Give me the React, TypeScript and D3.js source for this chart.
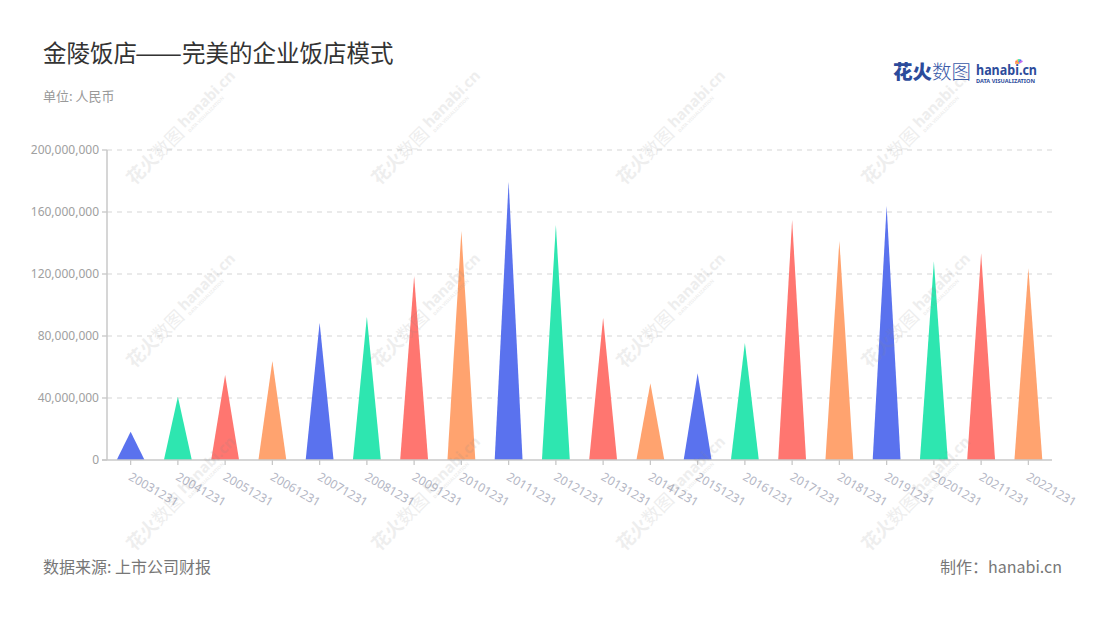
import React from "react";
import * as d3 from "d3";

const categories = [
  "20031231", "20041231", "20051231", "20061231", "20071231",
  "20081231", "20091231", "20101231", "20111231", "20121231",
  "20131231", "20141231", "20151231", "20161231", "20171231",
  "20181231", "20191231", "20201231", "20211231", "20221231",
];
const values = [
  18300000, 40800000, 54800000, 63900000, 88600000,
  92500000, 118700000, 147700000, 179600000, 151600000,
  91800000, 49500000, 55900000, 75700000, 154800000,
  141500000, 163900000, 128000000, 133300000, 123700000,
];
const yTicks = [0, 40000000, 80000000, 120000000, 160000000, 200000000];
const palette = ["#5a72ee", "#2ee6b0", "#ff7670", "#ffa36f"];

const titleA = "金陵饭店";
const titleDash = "——";
const titleB = "完美的企业饭店模式";
const subtitle = "单位: 人民币";
const source = "数据来源: 上市公司财报";
const maker = "制作：hanabi.cn";

const W = 1100;
const H = 620;
const left = 107;
const right = 1052;
const top = 150;
const bottom = 460;
const FONT = "'Noto Sans', 'Noto Sans CJK SC', sans-serif";
const CJK = "'Noto Sans CJK SC', 'Noto Sans', sans-serif";

const wmCenters: [number, number][] = [];
[127, 310, 493].forEach((cy) => {
  [183, 428, 673, 918].forEach((cx) => wmCenters.push([cx, cy]));
});

function Watermark({ x, y }: { x: number; y: number }) {
  return (
    <g transform={`translate(${x},${y}) rotate(-45)`} opacity={0.14} fill="#8a8a8a">
      <text x={-76} y={7} fontFamily={CJK} fontSize={18} fontWeight={700}>花火</text>
      <text x={-40} y={7} fontFamily={CJK} fontSize={18}>数图</text>
      <text x={0} y={2} fontFamily={FONT} fontSize={15} fontWeight={700}>hanabi.cn</text>
      <text x={1} y={9} fontFamily={FONT} fontSize={4.6} fontWeight={700}>DATA VISUALIZATION</text>
    </g>
  );
}

export default function App() {
  const x = d3.scaleBand<string>().domain(categories).range([left, right]).padding(0);
  const y = d3.scaleLinear().domain([0, 200000000]).range([bottom, top]);
  const fmt = d3.format(",");
  const bw = x.bandwidth() * 0.59;

  return (
    <svg width={W} height={H} style={{ display: "block", position: "absolute", left: 0, top: 0 }}>
      <rect width={W} height={H} fill="#ffffff" />
      {/* title */}
      <g fontFamily={CJK} fontSize={23.5} fill="#333">
        <text x={43} y={62}>{titleA}</text>
        <text x={135} y={62} textLength={47} lengthAdjust="spacingAndGlyphs">{titleDash}</text>
        <text x={182} y={62}>{titleB}</text>
      </g>
      <text x={43} y={100.5} fontFamily={CJK} fontSize={13} fill="#999">{subtitle}</text>

      {/* logo */}
      <g>
        <text x={893} y={79} fontFamily={CJK} fontSize={19.5} fontWeight={900} fill="#2c4b9b">花火</text>
        <text x={932} y={79} fontFamily={CJK} fontSize={19.5} fontWeight={300} fill="#3a5aa8">数图</text>
        <text x={976} y={75} fontFamily={FONT} fontSize={13.5} fontWeight={700} fill="#2c4b9b" textLength={61} lengthAdjust="spacingAndGlyphs">hanabi.cn</text>
        <text x={976} y={83} fontFamily={FONT} fontSize={4.6} fontWeight={700} fill="#2c4b9b" textLength={59} lengthAdjust="spacingAndGlyphs">DATA VISUALIZATION</text>
        {[["#ff6b6b", -60], ["#ffb545", -30], ["#2ee6b0", 0], ["#5a72ee", 30], ["#c56cf0", 60], ["#ff9f43", -90]].map(([c, a], i) => (
          <line key={i} x1={1019} y1={63} x2={1019 + 4 * Math.sin(((a as number) * Math.PI) / 180)} y2={63 - 4 * Math.cos(((a as number) * Math.PI) / 180)} stroke={c as string} strokeWidth={1.6} />
        ))}
      </g>

      {/* grid */}
      {yTicks.map((t) => (
        <g key={t}>
          {t > 0 && (
            <line x1={left} x2={right} y1={y(t)} y2={y(t)} stroke="#e3e3e3" strokeDasharray="5,5" strokeWidth={1.3} />
          )}
          <line x1={left - 5} x2={left} y1={y(t)} y2={y(t)} stroke="#c8c8c8" strokeWidth={1.3} />
          <text x={left - 8} y={y(t)} dy="0.35em" textAnchor="end" fontFamily={FONT} fontSize={12} fill="#a0a0a0">
            {fmt(t)}
          </text>
        </g>
      ))}

      {/* bars */}
      {categories.map((c, i) => {
        const cx = (x(c) as number) + x.bandwidth() / 2;
        const y0 = y(0);
        const y1 = y(values[i]);
        return (
          <path
            key={c}
            d={`M${cx - bw / 2},${y0} L${cx},${y1} L${cx + bw / 2},${y0} Z`}
            fill={palette[i % palette.length]}
          />
        );
      })}

      {/* axes */}
      <line x1={left} x2={left} y1={top} y2={bottom} stroke="#c8c8c8" strokeWidth={1.5} />
      <line x1={left - 5} x2={right} y1={bottom} y2={bottom} stroke="#c8c8c8" strokeWidth={1.5} />
      {categories.map((c) => {
        const cx = (x(c) as number) + x.bandwidth() / 2;
        return (
          <g key={c}>
            <line x1={cx} x2={cx} y1={bottom} y2={bottom + 5} stroke="#c8c8c8" strokeWidth={1.3} />
            <text
              transform={`translate(${cx + 2},${bottom + 11}) rotate(30)`}
              dy="0.8em"
              fontFamily={FONT}
              fontSize={12}
              fill="#b3b6c4"
            >
              {c}
            </text>
          </g>
        );
      })}

      {/* watermarks */}
      {wmCenters.map(([cx, cy], i) => (
        <Watermark key={i} x={cx} y={cy} />
      ))}

      {/* footer */}
      <text x={43} y={573} fontFamily={CJK} fontSize={16} fill="#777">{source}</text>
      <text x={1062} y={573} textAnchor="end" fontFamily={CJK} fontSize={16} fill="#777">{maker}</text>
    </svg>
  );
}
